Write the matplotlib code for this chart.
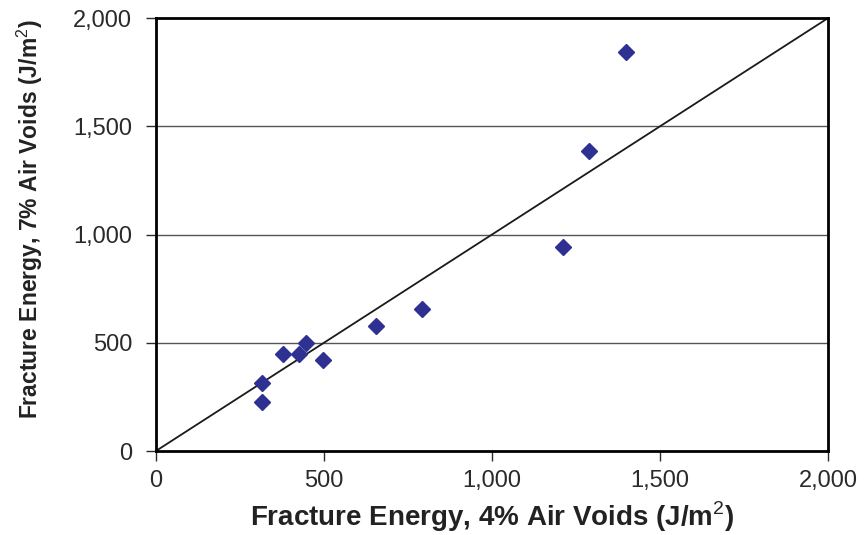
import numpy as np
import matplotlib.pyplot as plt
import matplotlib.ticker as mticker

plt.rcParams['font.family'] = ['Liberation Sans', 'DejaVu Sans']
plt.rcParams['mathtext.fontset'] = 'custom'
plt.rcParams['mathtext.rm'] = 'Liberation Sans'
plt.rcParams['mathtext.bf'] = 'Liberation Sans:bold'

# data (J/m^2)
fe_4pct = [315, 315, 378, 426, 446, 497, 655, 792, 1211, 1289, 1399]
fe_7pct = [226, 314, 448, 448, 499, 420, 577, 656, 942, 1386, 1843]
ticks = [0, 500, 1000, 1500, 2000]

fig = plt.figure(figsize=(8.66, 5.35), dpi=100)
ax = fig.add_axes([0.180, 0.157, 0.776, 0.809])

for yv in ticks[1:-1]:
    ax.axhline(yv, color='#555555', lw=1.0, zorder=1)
ax.plot([0, 2000], [0, 2000], color='#1a1a1a', lw=1.3, zorder=2)
ax.plot(fe_4pct, fe_7pct, ls='none', marker='D', ms=8.5, color='#2E3192', zorder=3)

ax.set_xlim(0, 2000)
ax.set_ylim(0, 2000)
ax.set_xticks(ticks)
ax.set_yticks(ticks)
fmt = mticker.FuncFormatter(lambda v, p: f'{int(v):,}')
ax.xaxis.set_major_formatter(fmt)
ax.yaxis.set_major_formatter(fmt)
ax.tick_params(direction='out', length=7, width=1, labelsize=17, colors='#2a2a2a')
ax.tick_params(axis='x', pad=7)
ax.tick_params(axis='y', pad=10)
for s in ax.spines.values():
    s.set_linewidth(2)
    s.set_color('black')

ax.set_xlabel(r'Fracture Energy, 4% Air Voids (J/m$^\mathrm{2}$)', fontsize=20, fontweight='bold', color='#222222')
ax.set_ylabel(r'Fracture Energy, 7% Air Voids (J/m$^\mathrm{2}$)', fontsize=16.5, fontweight='bold', color='#222222')
ax.xaxis.label.set_va('center')
ax.yaxis.label.set_va('center')
ax.xaxis.set_label_coords(0.5, -0.153)
ax.yaxis.set_label_coords(-0.188, 0.535)

fig.savefig('out.png', dpi=100)
